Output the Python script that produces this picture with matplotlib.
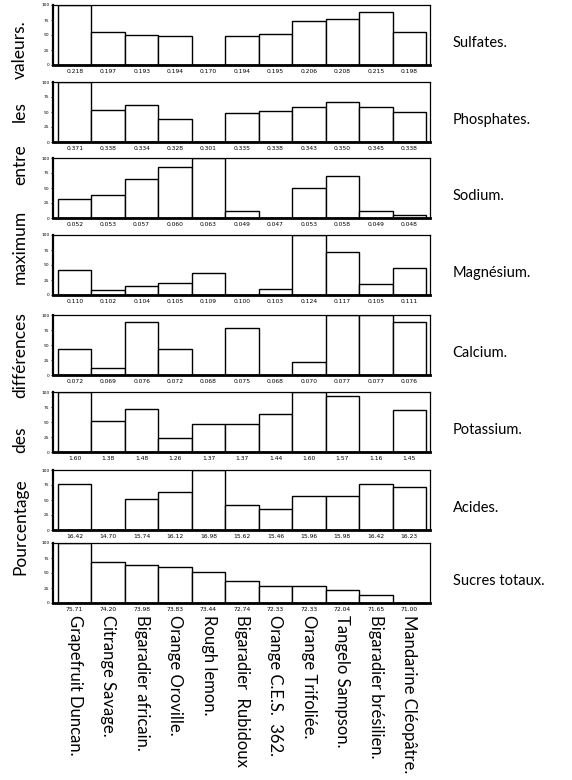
import matplotlib
matplotlib.use("Agg")
import matplotlib.pyplot as plt
import numpy as np

# varieties (bottom labels)
varietes = ["Grapefruit Duncan.", "Citrange Savage.", "Bigaradier africain.",
            "Orange Oroville.", "Rough lemon.", "Bigaradier  Rubidoux",
            "Orange C.E.S.  362.", "Orange Trifoliée.", "Tangelo Sampson.",
            "Bigaradier brésilien.", "Mandarine Cléopâtre."]

elements = ["Sulfates.", "Phosphates.", "Sodium.", "Magnésium.",
            "Calcium.", "Potassium.", "Acides.", "Sucres totaux."]

# values printed under each bar
val_sulfates = ["0.218", "0.197", "0.193", "0.194", "0.170", "0.194", "0.195", "0.206", "0.208", "0.215", "0.198"]
val_phosphates = ["0.371", "0.338", "0.334", "0.328", "0.301", "0.335", "0.338", "0.343", "0.350", "0.345", "0.338"]
val_sodium = ["0.052", "0.053", "0.057", "0.060", "0.063", "0.049", "0.047", "0.053", "0.058", "0.049", "0.048"]
val_magnesium = ["0.110", "0.102", "0.104", "0.105", "0.109", "0.100", "0.103", "0.124", "0.117", "0.105", "0.111"]
val_calcium = ["0.072", "0.069", "0.076", "0.072", "0.068", "0.075", "0.068", "0.070", "0.077", "0.077", "0.076"]
val_potassium = ["1.60", "1.38", "1.48", "1.26", "1.37", "1.37", "1.44", "1.60", "1.57", "1.16", "1.45"]
val_acides = ["16.42", "14.70", "15.74", "16.12", "16.98", "15.62", "15.46", "15.96", "15.98", "16.42", "16.23"]
val_sucres = ["75.71", "74.20", "73.98", "73.83", "73.44", "72.74", "72.33", "72.33", "72.04", "71.65", "71.00"]

# bar heights (% of max difference)
pct_sulfates = [100, 55, 50, 49, 0, 49, 51, 74, 77, 88, 55]
pct_phosphates = [100, 54, 61, 38, 0, 48, 51, 58, 66, 59, 50]
pct_sodium = [32, 38, 65, 85, 100, 12, 0, 50, 70, 12, 5]
pct_magnesium = [42, 8, 15, 20, 36, 0, 10, 100, 72, 18, 45]
pct_calcium = [44, 11, 89, 44, 0, 78, 0, 22, 100, 100, 89]
pct_potassium = [100, 51, 72, 23, 47, 47, 64, 100, 93, 0, 70]
pct_acides = [77, 0, 52, 63, 100, 41, 35, 56, 57, 77, 72]
pct_sucres = [100, 68, 63, 60, 52, 37, 28, 28, 22, 14, 0]

valeurs = [val_sulfates, val_phosphates, val_sodium, val_magnesium,
           val_calcium, val_potassium, val_acides, val_sucres]
pourcents = [pct_sulfates, pct_phosphates, pct_sodium, pct_magnesium,
             pct_calcium, pct_potassium, pct_acides, pct_sucres]

W, H = 572, 780
fig = plt.figure(figsize=(W / 100, H / 100), dpi=100)
FONT = "Lato"

bottoms = [65, 142, 218, 295, 375, 452, 530, 603]  # px from top
ax_h = 60
x0, x1 = 53, 430
x = np.arange(11)

for i in range(8):
    b = bottoms[i]
    ax = fig.add_axes([x0 / W, 1 - b / H, (x1 - x0) / W, ax_h / H])
    ax.bar(x, pourcents[i], width=1.0, align="edge", facecolor="white",
           edgecolor="black", linewidth=1.0)
    ax.set_xlim(-0.15, 11.12)
    ax.set_ylim(0, 100)
    ax.set_yticks([0, 25, 50, 75, 100])
    ax.set_yticklabels(["0", "25", "50", "75", "100"], fontsize=3.2)
    ax.tick_params(axis="y", length=1.5, width=0.6, pad=1)
    ax.set_xticks(x + 0.5)
    ax.set_xticklabels(valeurs[i], fontsize=4.3)
    ax.tick_params(axis="x", length=0, pad=3)
    for s in ["top", "right"]:
        ax.spines[s].set_linewidth(0.9)
    ax.spines["left"].set_linewidth(1.6)
    ax.spines["bottom"].set_linewidth(2.0)
    ax.text(1.06, 0.37, elements[i], transform=ax.transAxes, fontsize=10.5,
            family=FONT, va="center", ha="left")

# variety names, rotated, under the last panel
bar_w = (x1 - x0) / 11.27
for j, name in enumerate(varietes):
    px = x0 + (0.15 + j + 0.5) * bar_w
    fig.text(px / W, 1 - 615 / H, name, rotation=-90, fontsize=12,
             family=FONT, ha="center", va="top")

# spaced-out y label
mots = ["Pourcentage", "des", "différences", "maximum", "entre", "les", "valeurs."]
centres = [527, 440, 355, 247, 165, 112, 50]
for m, cy in zip(mots, centres):
    fig.text(20 / W, 1 - cy / H, m, rotation=90, fontsize=12.5,
             family=FONT, ha="center", va="center")

fig.savefig("out.png", dpi=100)
